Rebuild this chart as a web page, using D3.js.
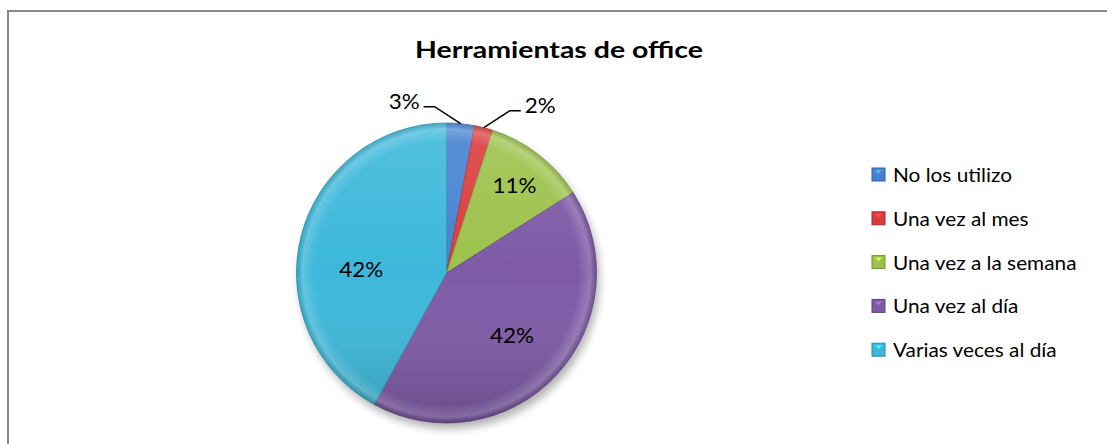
<!DOCTYPE html>
<html>
<head>
<meta charset="utf-8">
<script src="https://cdn.jsdelivr.net/npm/d3@7"></script>
<style>
  body { margin: 0; background: #fff; }
  text { font-family: Lato, "Open Sans", sans-serif; fill: #000; }
</style>
</head>
<body>
<div id="chart"></div>
<script>
// data
var categories = ["No los utilizo", "Una vez al mes", "Una vez a la semana", "Una vez al día", "Varias veces al día"];
var values = [3, 2, 11, 42, 42];
var labels = ["3%", "2%", "11%", "42%", "42%"];
var colors = ["#4682d2", "#dc3c3c", "#9dc24c", "#7e5aa6", "#3cb8da"];
var title = "Herramientas de office";

var width = 1107, height = 444;
var cx = 446.5, cy = 273, radius = 150;

var svg = d3.select("#chart").append("svg")
    .attr("width", width)
    .attr("height", height);

var defs = svg.append("defs");

// drop shadow under the pie
defs.append("filter")
    .attr("id", "blur")
    .attr("x", "-20%").attr("y", "-20%")
    .attr("width", "140%").attr("height", "140%")
  .append("feGaussianBlur")
    .attr("stdDeviation", 4);

// shading over the slices (lighter on top, darker at the bottom)
var shade = defs.append("linearGradient")
    .attr("id", "shade")
    .attr("x1", 0).attr("y1", 0).attr("x2", 0).attr("y2", 1);
shade.append("stop").attr("offset", "0%").attr("stop-color", "#fff").attr("stop-opacity", 0.12);
shade.append("stop").attr("offset", "50%").attr("stop-color", "#fff").attr("stop-opacity", 0);
shade.append("stop").attr("offset", "100%").attr("stop-color", "#000").attr("stop-opacity", 0.18);

// rim bevel
var rim = defs.append("radialGradient")
    .attr("id", "rim")
    .attr("cx", "50%").attr("cy", "50%").attr("r", "50%");
rim.append("stop").attr("offset", "88%").attr("stop-color", "#fff").attr("stop-opacity", 0);
rim.append("stop").attr("offset", "96%").attr("stop-color", "#fff").attr("stop-opacity", 0.18);
rim.append("stop").attr("offset", "100%").attr("stop-color", "#000").attr("stop-opacity", 0.12);

// chart border
svg.append("rect")
    .attr("x", 8)
    .attr("y", 11)
    .attr("width", width + 20)
    .attr("height", height + 20)
    .style("fill", "none")
    .style("stroke", "#888")
    .style("stroke-width", 2);

// title
var titleText = svg.append("text")
    .attr("x", 559)
    .attr("y", 57.5)
    .attr("text-anchor", "middle")
    .style("font-size", "22px")
    .style("font-weight", "bold")
    .text(title);
titleText.attr("textLength", 288).attr("lengthAdjust", "spacingAndGlyphs");

var pie = d3.pie().sort(null).value(function(d) { return d; });
var arcs = pie(values);

var arc = d3.arc().innerRadius(0).outerRadius(radius);

var g = svg.append("g")
    .attr("transform", "translate(" + cx + "," + cy + ")");

g.append("circle")
    .attr("cx", 3)
    .attr("cy", 6)
    .attr("r", radius)
    .style("fill", "#000")
    .style("opacity", 0.3)
    .attr("filter", "url(#blur)");

g.selectAll("path.slice")
    .data(arcs)
  .enter().append("path")
    .attr("class", "slice")
    .attr("d", arc)
    .style("fill", function(d, i) { return colors[i]; })
    .style("stroke", function(d, i) { return d3.color(colors[i]).darker(0.6); })
    .style("stroke-width", 0.8);

g.append("circle")
    .attr("r", radius)
    .style("fill", "url(#shade)");
g.append("circle")
    .attr("r", radius)
    .style("fill", "url(#rim)");

// stretch factor for the wide Excel text
var probe = svg.append("text").style("font-size", "22px").text("42%");
var labelStretch = 44 / probe.node().getComputedTextLength();
probe.remove();

// labels inside the big slices
var labelRadius = [0, 0, 0.74, 0.6, 0.57];
arcs.forEach(function(d, i) {
  if (values[i] < 5) return;
  var r = radius * labelRadius[i];
  var a = (d.startAngle + d.endAngle) / 2;
  if (i === 4) a -= 0.2;
  var t = g.append("text")
      .attr("x", Math.sin(a) * r)
      .attr("y", -Math.cos(a) * r + 8)
      .attr("text-anchor", "middle")
      .style("font-size", "22px")
      .text(labels[i]);
  t.attr("textLength", t.node().getComputedTextLength() * labelStretch)
   .attr("lengthAdjust", "spacingAndGlyphs");
});

// outside labels with leader lines for the small slices
arcs.forEach(function(d, i) {
  if (values[i] >= 5) return;
  var a = (d.startAngle + d.endAngle) / 2;
  var side = i === 0 ? -1 : 1;
  var x0 = Math.sin(a) * radius, y0 = -Math.cos(a) * radius;
  var x1 = x0 + side * 26, y1 = y0 - 17;
  var x2 = x1 + side * 11;
  g.append("polyline")
      .attr("points", [[x0, y0], [x1, y1], [x2, y1]].join(" "))
      .style("fill", "none")
      .style("stroke", "#000")
      .style("stroke-width", 1.5);
  var t = g.append("text")
      .attr("x", x2 + side * 4)
      .attr("y", y1 + 2)
      .attr("text-anchor", side < 0 ? "end" : "start")
      .style("font-size", "22px")
      .text(labels[i]);
  t.attr("textLength", t.node().getComputedTextLength() * labelStretch)
   .attr("lengthAdjust", "spacingAndGlyphs");
});

// legend
var legend = svg.append("g")
    .attr("transform", "translate(872,175)");

var probe2 = svg.append("text").style("font-size", "19px").text(categories[0]);
var legendStretch = 119 / probe2.node().getComputedTextLength();
probe2.remove();

var item = legend.selectAll("g.item")
    .data(categories)
  .enter().append("g")
    .attr("class", "item")
    .attr("transform", function(d, i) { return "translate(0," + (i * 43.8) + ")"; });

item.append("rect")
    .attr("x", 0)
    .attr("y", -7)
    .attr("width", 13)
    .attr("height", 13)
    .style("fill", function(d, i) { return colors[i]; })
    .style("stroke", function(d, i) { return d3.color(colors[i]).darker(0.8); })
    .style("stroke-width", 1);

item.append("path")
    .attr("d", "M3,-5L10,-5L6.5,-1Z")
    .style("fill", function(d, i) { return d3.color(colors[i]).brighter(0.8); });

item.append("text")
    .attr("x", 21)
    .attr("y", 7)
    .style("font-size", "19px")
    .text(function(d) { return d; })
    .each(function() {
      d3.select(this)
        .attr("textLength", this.getComputedTextLength() * legendStretch)
        .attr("lengthAdjust", "spacingAndGlyphs");
    });
</script>
</body>
</html>
